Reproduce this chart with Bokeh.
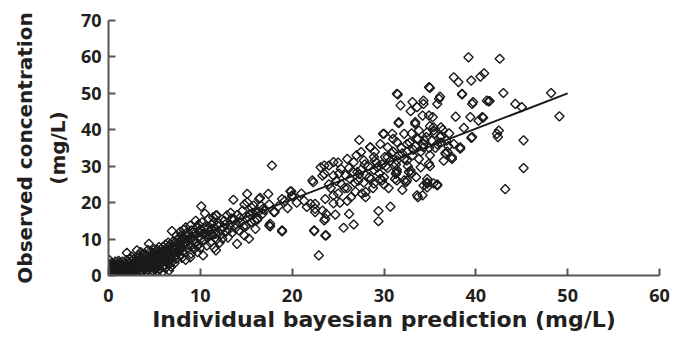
import math
from bokeh.plotting import figure
from bokeh.embed import file_html
from bokeh.resources import INLINE
from bokeh.models import FixedTicker

# ---- data ----
x_dense = [0.1,0.2,0.3,0.1,0.4,0.2,0.1,0.5,0.6,0.7,0.5,0.8,0.9,1.0,0.9,1.0,1.1,0.3,0.6,0.8,
           1.2,1.3,1.4,1.5,1.6,1.7,1.8,1.9,2.0,1.5,1.2,1.8,1.4,1.9,2.0,
           2.1,2.2,2.3,2.4,2.5,2.6,2.7,2.8,2.9,3.0,3.1,2.5,2.2,2.8,3.0,2.4,
           3.2,3.3,3.4,3.5,3.6,3.7,3.8,3.9,4.0,4.0,3.3,3.6,3.9,3.5,
           4.1,4.2,4.3,4.4,4.5,4.6,4.7,4.8,4.9,5.0,4.3,4.6,5.0,4.8,
           5.1,5.2,5.3,5.4,5.5,5.5,5.6,5.7,5.8,5.9,6.0,6.0,5.3,5.9,
           6.1,6.2,6.3,6.4,6.5,6.6,6.7,6.8,6.9,6.9,7.0,6.5,6.2,7.0,6.8,
           7.1,7.2,7.3,7.4,7.5,7.6,7.7,7.8,7.9,8.0,7.4,8.0,7.2,7.8,
           8.1,8.2,8.3,8.4,8.5,8.6,8.7,8.8,8.9,9.0,9.0,8.4,8.9,8.2,
           9.1,9.2,9.3,9.4,9.5,9.6,9.7,9.8,9.9,10.0,10.1,10.2,10.3,9.5,10.0,9.8,
           10.4,10.5,10.6,10.7,10.8,10.9,11.0,11.1,11.2,11.3,11.4,11.5,11.6,11.7,11.7,11.8,11.9,12.0,11.8,10.5,
           12.1,12.2,12.4,12.5,12.6,12.8,12.9,13.0,13.2,13.3,13.5,13.6,13.7,13.8,14.0,14.0,14.2,14.4,14.6,14.8,
           15.0,15.1,15.1,15.2,15.3,15.5,15.6,15.8,16.0,16.2,16.2,16.4,16.5,16.6,16.8]
y_dense = [0.5,1.0,1.5,2.0,2.5,3.0,4.2,0.8,1.3,2.0,3.2,0.6,1.1,1.7,2.4,3.0,4.0,0.7,0.4,2.8,
           0.7,1.3,2.0,2.6,1.0,1.6,2.3,3.2,6.2,3.8,2.3,0.8,0.5,1.4,2.8,
           0.9,1.6,2.2,3.0,4.0,1.2,2.0,2.7,3.6,1.0,6.9,5.2,0.6,4.6,2.4,1.0,
           1.6,3.0,4.0,2.2,5.0,1.2,3.4,6.0,2.6,4.4,5.6,0.9,1.8,6.4,
           1.1,3.2,5.2,8.7,2.0,4.0,6.2,1.4,3.0,5.0,7.0,0.9,7.2,4.8,
           2.2,4.0,6.0,1.2,1.8,7.8,3.0,5.0,6.6,2.4,4.2,7.0,3.4,1.0,
           5.4,2.0,3.6,6.2,7.6,1.4,4.6,5.8,12.2,3.7,8.0,9.0,8.5,6.5,2.4,
           5.0,7.2,9.2,4.6,6.4,8.4,10.4,5.6,7.6,9.6,11.0,4.8,3.4,12.0,
           6.6,12.5,8.6,4.3,10.6,7.4,9.4,11.4,13.7,6.0,8.2,13.2,5.0,10.2,
           10.2,12.0,7.2,9.0,11.0,13.2,6.4,8.6,10.6,12.6,19.0,14.6,5.5,15.0,7.6,14.0,
           9.6,11.6,13.6,8.2,10.4,15.6,12.2,9.0,14.0,11.0,16.0,7.6,13.0,16.5,6.9,10.0,12.0,14.4,16.5,17.0,
           9.0,11.2,10.1,13.2,15.0,12.0,16.5,10.4,14.0,17.2,11.8,20.8,15.4,13.0,8.7,16.6,12.4,14.6,17.8,11.0,
           13.6,22.4,20.1,16.0,10.1,14.6,18.6,19.2,12.8,15.3,15.6,21.0,21.3,19.2,17.0]

x_core = [0.15,0.25,0.35,0.45,0.55,0.65,0.75,0.85,0.95,1.05,1.15,1.25,1.35,1.45,1.55,1.65,1.75,1.85,1.95,0.05,
          2.05,2.15,2.25,2.35,2.45,2.55,2.65,2.75,2.85,2.95,3.05,3.15,3.25,3.35,3.45,3.55,3.65,3.75,3.85,3.95,
          4.05,4.15,4.25,4.35,4.45,4.55,4.65,4.75,4.85,4.95,5.05,5.15,5.25,5.35,5.45,5.55,5.65,5.75,5.85,5.95,
          6.05,6.15,6.25,6.35,6.45,6.55,6.65,6.75,6.85,6.95,7.05,7.15,7.25,7.35,7.45,7.55,7.65,7.75,7.85,7.95,
          8.05,8.25,8.45,8.65,8.85,9.05,9.25,9.45,9.65,9.85,10.05,10.25,10.45,10.65,10.85,11.05,11.25,11.45,11.65,11.85,
          12.3,12.7,13.1,13.4,13.9,14.3,14.7,15.4,15.9,16.3]
y_core = [1.2,2.2,3.4,0.6,1.8,2.9,3.8,1.4,0.7,2.1,3.4,1.0,2.8,1.6,0.6,2.2,3.0,1.8,4.2,3.0,
          1.4,2.6,3.6,4.6,1.8,2.8,0.8,3.4,1.6,4.2,3.0,2.0,4.8,1.0,3.4,4.4,2.8,5.6,2.0,3.8,
          5.6,2.4,4.2,1.6,3.6,6.6,2.6,5.4,3.6,6.2,1.6,3.2,5.2,7.0,2.8,4.6,6.2,3.8,5.6,7.8,
          2.8,4.8,6.8,4.2,5.2,3.0,7.0,8.6,4.4,6.8,9.4,6.0,8.2,5.6,7.6,10.0,6.8,9.0,8.0,11.0,
          7.6,9.0,11.6,8.4,10.2,12.4,9.6,11.8,8.0,12.0,10.0,11.4,12.8,10.8,13.0,11.0,12.8,14.6,11.4,13.8,
          12.6,14.0,12.6,15.6,14.0,15.8,13.4,16.8,15.0,17.4]

x_mid = [17.4,17.6,17.6,17.5,17.8,18.0,18.1,18.9,18.9,18.9,19.8,19.9,20.0,20.0,21.6,22.0,22.2,22.3,22.4,22.4,
         22.5,22.5,22.5,22.9,23.1,23.3,23.3,23.5,23.5,23.6,23.6,23.6,23.7,23.7,24.0,24.5,24.5,24.7,
         17.0,17.5,18.5,19.2,19.5,20.5,21.0,21.3,16.0,16.8,14.8,15.7]
y_mid = [22.4,14.2,13.5,13.7,30.2,17.4,17.4,21.0,12.1,12.4,23.1,23.1,22.0,21.7,18.8,19.7,26.1,25.6,12.2,12.4,
         18.3,19.7,17.4,5.5,29.7,27.4,17.8,15.1,27.9,21.0,15.6,11.0,16.9,11.0,30.2,27.4,19.8,16.7,
         18.0,19.5,19.0,20.5,18.5,20.0,22.5,20.5,17.5,18.2,19.5,17.2]

x_high = [25.6,26.7,26.2,28.0,28.9,29.8,31.3,32.4,31.4,34.7,34.3,29.4,29.4,30.7,33.7,33.6,
          31.5,31.8,33.1,33.6,32.9,34.3,34.9,31.6,33.4,33.8,34.7,32.2,29.9,30.9,27.3,28.5,27.5,29.6,30.4,31.4,32.5,33.6,34.3,
          26.0,26.7,24.5,23.5,25.3,27.8,28.9,30.4,31.4,32.5,32.9,31.3,34.0,29.3,27.1,30.0,32.5,34.7,
          31.4,34.9,34.3,36.0,35.8,31.6,33.4,34.2,35.3,35.4,36.2,32.2,31.4,32.7,35.8,34.7,35.4,30.0,28.5,
          24.2,24.8,25.0,25.4,25.8,26.0,26.3,26.6,26.9,27.2,27.5,27.8,28.0,28.3,28.6,28.9,29.2,29.5,29.8,30.1,
          30.4,30.7,31.0,31.3,31.6,31.9,32.2,32.5,32.8,33.1,33.4,33.7,34.0,34.3,34.6,34.9,35.2,35.5,35.8,36.1,
          36.4,36.8,37.1,25.2,26.4,27.6,28.8,30.0,31.2,33.0,35.0,36.5,37.0,
          24.5,25.1,25.7,26.2,26.8,27.3,27.9,28.4,29.0,29.6,30.2,30.8,31.4,32.0,32.6,33.2,33.8,34.4,35.0,35.6,
          36.2,36.9,27.0,29.0,31.0,33.0,35.0,26.0,28.0,30.5,32.0,33.5,24.0,25.0]
y_high = [13.1,14.0,16.9,22.9,25.2,26.1,28.1,25.6,26.1,26.5,24.7,17.7,14.9,18.9,21.5,22.0,
          49.7,46.7,47.6,46.2,45.1,47.1,43.9,41.8,42.1,39.8,39.3,38.9,38.9,38.9,37.2,35.2,33.9,36.1,35.2,36.6,36.1,37.5,35.2,
          32.0,31.1,31.1,30.2,29.3,31.6,32.5,32.5,31.6,31.6,28.8,27.9,29.7,29.7,28.4,27.0,26.1,25.2,
          49.9,51.7,48.0,48.5,47.1,42.1,41.6,43.9,43.5,40.7,40.7,26.1,28.4,28.4,24.7,24.2,25.3,38.9,35.2,
          24.0,26.0,22.5,25.0,27.5,24.0,26.5,28.5,23.0,26.0,29.0,25.5,27.5,30.0,26.5,29.0,31.0,28.0,30.5,32.5,
          29.5,31.5,34.0,30.5,33.0,35.0,32.0,34.0,36.5,33.0,35.5,37.5,34.0,36.0,38.0,35.0,37.0,39.0,36.0,38.0,
          40.0,37.0,39.0,20.0,21.5,22.5,24.0,25.0,26.5,28.0,30.0,31.5,35.5,
          22.0,28.0,24.0,29.5,25.5,27.8,30.5,27.0,31.5,26.5,30.0,33.5,29.0,33.5,30.0,34.5,32.0,37.0,33.0,35.0,
          36.5,34.0,33.0,34.0,37.5,39.0,41.0,20.5,21.5,24.0,23.5,27.0,25.0,31.0]

x_top = [39.2,42.6,37.6,38.1,39.5,40.5,40.9,35.0,38.5,43.0,48.2,36.1,39.7,41.4,41.5,44.3,45.0,49.1,37.8,39.4,
         40.8,40.3,42.5,42.4,38.7,39.6,39.5,45.2,45.2,43.2,38.3,37.4,36.7,34.7,35.8,34.9,34.2,41.2,40.7,38.5,
         39.6,37.6,38.3,37.4,36.7,35.4,36.2,42.3]
y_top = [59.9,59.5,54.4,53.1,53.5,54.6,55.5,51.5,49.9,50.1,50.1,49.1,47.6,47.8,47.9,47.1,46.2,43.7,43.6,43.5,
         43.3,42.5,39.8,38.0,40.5,38.0,37.8,37.1,29.5,23.7,34.8,32.0,33.6,25.6,25.0,30.7,22.0,48.0,43.5,49.7,
         47.1,36.1,35.2,32.5,33.4,39.8,38.4,38.9]

fit_x = [0, 50]
fit_y = [1.5, 50]

x_ticks = [0, 10, 20, 30, 40, 50, 60]
y_ticks = [0, 10, 20, 30, 40, 50, 60, 70]

xs = x_dense + x_core + x_mid + x_high + x_top
ys = y_dense + y_core + y_mid + y_high + y_top

TICK_FONT = "Open Sans"
LABEL_FONT = "DejaVu Sans"
TXT = "#231f20"

p = figure(width=673, height=343, x_range=(0, 60), y_range=(0, 70),
           output_backend="svg", toolbar_location=None,
           min_border_left=108, min_border_right=14, min_border_top=20, min_border_bottom=68)
p.outline_line_color = None
p.grid.visible = False
p.background_fill_color = "white"
p.border_fill_color = "white"

p.scatter(xs, ys, marker="square", angle=math.pi / 4, size=6.5,
          fill_color=None, line_color="#1a1a1a", line_width=1.4)
p.line(fit_x, fit_y, line_color="#1a1a1a", line_width=2)

for ax in (p.xaxis[0], p.yaxis[0]):
    ax.axis_line_color = "#555555"
    ax.axis_line_width = 2
    ax.major_tick_line_color = "#555555"
    ax.major_tick_line_width = 2
    ax.major_tick_in = 7
    ax.major_tick_out = 0
    ax.minor_tick_line_color = None
    ax.major_label_text_font = TICK_FONT
    ax.major_label_text_font_style = "bold"
    ax.major_label_text_font_size = "18px"
    ax.major_label_text_color = TXT
    ax.axis_label_text_font = LABEL_FONT
    ax.axis_label_text_font_style = "bold"
    ax.axis_label_text_color = TXT

p.xaxis.ticker = FixedTicker(ticks=x_ticks)
p.yaxis.ticker = FixedTicker(ticks=y_ticks)
p.xaxis.major_label_standoff = 13
p.yaxis.major_label_standoff = 7
p.xaxis.axis_label = "Individual bayesian prediction (mg/L)"
p.xaxis.axis_label_text_font_size = "22px"
p.xaxis.axis_label_standoff = 2
p.yaxis.axis_label = "Observed concentration\n(mg/L)"
p.yaxis.axis_label_text_font_size = "20px"
p.yaxis.axis_label_standoff = 8
p.yaxis.axis_label_text_line_height = 1.36

open("out.html", "w").write(file_html(p, INLINE))
